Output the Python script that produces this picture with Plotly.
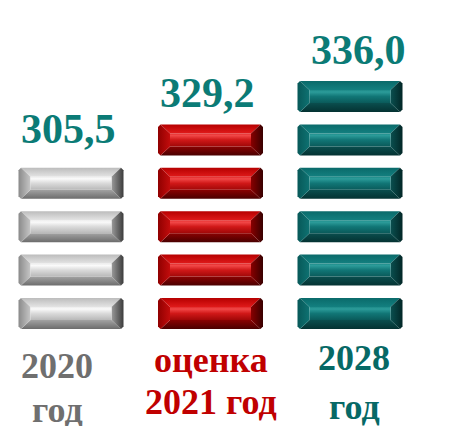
import plotly.graph_objects as go

# ---- data ----
categories = [["2020", "год"], ["оценка", "2021 год"], ["2028", "год"]]
values = [305.5, 329.2, 336.0]
value_labels = ["305,5", "329,2", "336,0"]
bar_counts = [4, 5, 6]

# ---- styles ----
PAGE_OFF = 8                  # browser default body margin
W, H = 449 - PAGE_OFF, 426 - PAGE_OFF
XU, YU = 139.5, 43.4          # pixels per data unit
X0PX, Y0PX = 71 - PAGE_OFF, 329 - PAGE_OFF   # pixel of (0,0) inside the figure
HW = 52.5 / XU                # bar half width
BH = 31 / YU                  # bar height
BX = 12 / XU                  # bevel widths
BT = 9 / YU
BB = 9 / YU
CX, CY = 2.5 / XU, 2.5 / YU   # rounded-corner chamfer

schemes = [
    dict(top=["#e4e4e4", "#bcbcbc"],
         center=[[0, "#b8b8b8"], [0.5, "#dadada"], [0.85, "#fafafa"], [1, "#ececec"]],
         bottom=["#6c6c6c", "#a2a2a2"], left=["#8a8a8a", "#c6c6c6"], right=["#9a9a9a", "#3c3c3c"]),
    dict(top=["#e01a1a", "#b60000"],
         center=[[0, "#a00808"], [0.5, "#d01818"], [0.85, "#f24848"], [1, "#e02a2a"]],
         bottom=["#4a0000", "#8a0202"], left=["#900000", "#c20c0c"], right=["#880000", "#380000"]),
    dict(top=["#138080", "#0a6a6a"],
         center=[[0, "#0a5a5a"], [0.5, "#117676"], [0.85, "#2c9c9a"], [1, "#1e8a88"]],
         bottom=["#043232", "#0a4e4e"], left=["#075858", "#0e7272"], right=["#0a5050", "#022626"]),
]
value_color = "#0b7b76"
label_colors = ["#6f6f6f", "#c00000", "#066966"]
FONT = "Times New Roman, Liberation Serif, serif"

fig = go.Figure()


def poly(xs, ys, cs, orient="vertical"):
    fig.add_trace(go.Scatter(
        x=xs + [xs[0]], y=ys + [ys[0]], mode="lines", fill="toself",
        line=dict(width=0), hoverinfo="skip", showlegend=False,
        fillgradient=dict(type=orient, colorscale=cs)))


for i, n in enumerate(bar_counts):
    s = schemes[i]
    for k in range(n):
        x0, x1 = i - HW, i + HW
        y0, y1 = k, k + BH
        xi0, xi1 = x0 + BX, x1 - BX
        yi0, yi1 = y0 + BB, y1 - BT
        # top face (inner edge -> outer edge)
        poly([x0 + CX, x1 - CX, xi1, xi0], [y1, y1, yi1, yi1],
             [[0, s["top"][0]], [1, s["top"][1]]])
        # bottom face
        poly([x0 + CX, x1 - CX, xi1, xi0], [y0, y0, yi0, yi0],
             [[0, s["bottom"][0]], [1, s["bottom"][1]]])
        # left face
        poly([x0 + CX, xi0, xi0, x0 + CX, x0, x0], [y0, yi0, yi1, y1, y1 - CY, y0 + CY],
             [[0, s["left"][0]], [1, s["left"][1]]], "horizontal")
        # right face
        poly([x1 - CX, x1, x1, x1 - CX, xi1, xi1], [y0, y0 + CY, y1 - CY, y1, yi1, yi0],
             [[0, s["right"][0]], [1, s["right"][1]]], "horizontal")
        # center face
        poly([xi0, xi1, xi1, xi0], [yi0, yi0, yi1, yi1], s["center"])

# value labels above columns
value_offsets = [0.89, 0.72, 0.71]
value_dx = [-0.02, -0.02, 0.06]
for i, (n, lab) in enumerate(zip(bar_counts, value_labels)):
    fig.add_annotation(x=i + value_dx[i], y=n - 1 + BH + value_offsets[i], text=lab,
                       showarrow=False, xanchor="center", yanchor="middle",
                       font=dict(family=FONT, size=42, color=value_color, weight="bold"))

# category labels below (pixel rows of the reference)
label_y = [[366, 410], [360, 402], [358, 407]]
label_dx = [-0.1, 0.0, 0.03]
for i, lines in enumerate(categories):
    for j, line in enumerate(lines):
        fig.add_annotation(x=i + label_dx[i], y=(329 - label_y[i][j]) / YU, text=line,
                           showarrow=False, xanchor="center", yanchor="middle",
                           font=dict(family=FONT, size=36, color=label_colors[i], weight="bold"))

fig.update_layout(
    width=W, height=H, margin=dict(l=0, r=0, t=0, b=0),
    paper_bgcolor="white", plot_bgcolor="white", showlegend=False,
    xaxis=dict(range=[-X0PX / XU, (W - X0PX) / XU], visible=False, fixedrange=True),
    yaxis=dict(range=[(Y0PX - H) / YU, Y0PX / YU], visible=False, fixedrange=True),
)

fig.write_html("out.html")
